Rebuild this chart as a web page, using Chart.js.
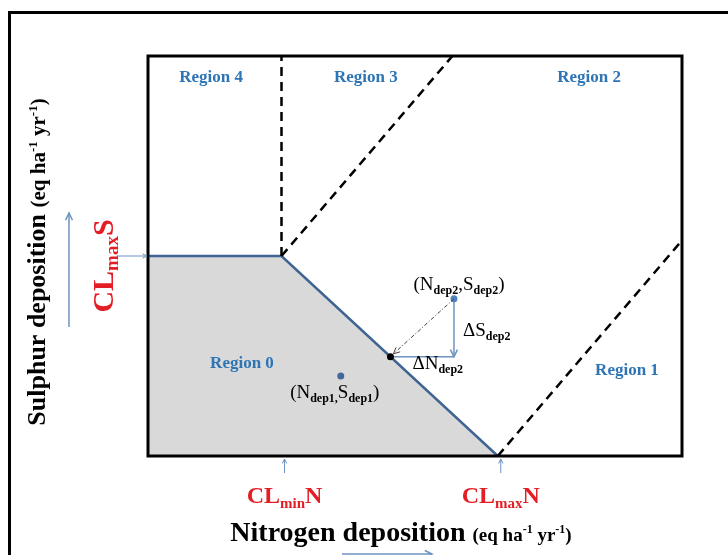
<!DOCTYPE html>
<html>
<head>
<meta charset="utf-8">
<script src="https://cdn.jsdelivr.net/npm/chart.js@4.4.1/dist/chart.umd.min.js"></script>
<style>
  html, body { margin: 0; padding: 0; background: #ffffff; }
  #c { display: block; }
</style>
</head>
<body>
<canvas id="c" width="728" height="555"></canvas>
<script>
// ---------------- data (arbitrary units 0..10) ----------------
const regionNames = ['Region 0', 'Region 1', 'Region 2', 'Region 3', 'Region 4'];
const criticalLoadNames = ['CLminN', 'CLmaxN', 'CLmaxS'];
const criticalLoadValues = [2.5, 6.55, 5];          // CLminN, CLmaxN (N axis), CLmaxS (S axis)
const boundaryN = [0, 2.5, 6.55];                    // critical load function
const boundaryS = [5, 5, 0];
const splitLinesN = [[2.5, 2.5], [2.5, 5.7], [6.55, 10]];   // dashed region borders
const splitLinesS = [[5, 10], [5, 10], [0, 5.39]];
const depositionNames = ['dep1', 'dep2'];
const depositionN = [3.61, 5.73];
const depositionS = [2.0, 3.93];
const exceedancePointN = [4.54];                     // closest point on the boundary
const exceedancePointS = [2.48];
const axisMin = 0, axisMax = 10;

// ---------------- layout / style (not data) ----------------
const SERIF = '"Liberation Serif", "Times New Roman", serif';
const BLUE_TXT = '#2e75b6';
const RED_TXT = '#e41e25';
const LINE_BLUE = '#3f6493';
const ARROW_BLUE = '#6d93c0';
const regionLabelPos = [[1.76, 2.35], [8.97, 2.175], [8.26, 9.5], [4.08, 9.5], [1.18, 9.5]];

function toXY(xs, ys) { return xs.map((v, i) => ({ x: v, y: ys[i] })); }

function richWidth(ctx, parts) {
  let w = 0;
  for (const p of parts) { ctx.font = p.font; w += ctx.measureText(p.t).width; }
  return w;
}
function drawRich(ctx, parts, x, y, align, color) {
  const w = richWidth(ctx, parts);
  let cx = align === 'center' ? x - w / 2 : (align === 'right' ? x - w : x);
  ctx.textAlign = 'left';
  ctx.textBaseline = 'alphabetic';
  ctx.fillStyle = color;
  for (const p of parts) {
    ctx.font = p.font;
    ctx.fillText(p.t, cx, y + (p.dy || 0));
    cx += ctx.measureText(p.t).width;
  }
}
function arrowLine(ctx, x1, y1, x2, y2, color, lw, head, dash) {
  ctx.save();
  ctx.strokeStyle = color;
  ctx.lineWidth = lw;
  ctx.setLineDash(dash || []);
  ctx.beginPath(); ctx.moveTo(x1, y1); ctx.lineTo(x2, y2); ctx.stroke();
  ctx.setLineDash([]);
  if (head) {
    const a = Math.atan2(y2 - y1, x2 - x1);
    ctx.beginPath();
    ctx.moveTo(x2 - head * Math.cos(a - 0.45), y2 - head * Math.sin(a - 0.45));
    ctx.lineTo(x2, y2);
    ctx.lineTo(x2 - head * Math.cos(a + 0.45), y2 - head * Math.sin(a + 0.45));
    ctx.stroke();
  }
  ctx.restore();
}
const f = (w, s) => `${w} ${s}px ${SERIF}`;

const decor = {
  id: 'decor',
  beforeDraw(chart) {
    const ctx = chart.ctx;
    ctx.save();
    ctx.fillStyle = '#ffffff';
    ctx.fillRect(0, 0, chart.width, chart.height);
    ctx.strokeStyle = '#000000';
    ctx.lineWidth = 3;
    ctx.strokeRect(9.5, 12.5, 900, 900);
    ctx.restore();
  },
  afterDatasetsDraw(chart) {
    const ctx = chart.ctx;
    const X = v => chart.scales.x.getPixelForValue(v);
    const Y = v => chart.scales.y.getPixelForValue(v);
    const a = chart.chartArea;
    ctx.save();

    // plot frame
    ctx.strokeStyle = '#000000';
    ctx.lineWidth = 3;
    ctx.strokeRect(a.left, a.top, a.right - a.left, a.bottom - a.top);

    // exceedance construction for deposition point 2
    const px2 = X(depositionN[1]), py2 = Y(depositionS[1]);
    const pxe = X(exceedancePointN[0]), pye = Y(exceedancePointS[0]);
    arrowLine(ctx, px2, py2, pxe + 3, pye - 3, '#444444', 1, 7, [4, 2, 1, 2]);
    arrowLine(ctx, px2, py2 + 3, px2, pye, ARROW_BLUE, 1.5, 8);
    arrowLine(ctx, px2, pye, pxe, pye, ARROW_BLUE, 1.5, 0);
    ctx.fillStyle = '#000000';
    ctx.beginPath(); ctx.arc(pxe, pye, 3.5, 0, Math.PI * 2); ctx.fill();

    // region labels
    regionNames.forEach((name, i) => {
      drawRich(ctx, [{ t: name, font: f('bold', 17) }], X(regionLabelPos[i][0]), Y(regionLabelPos[i][1]) + 6, 'center', BLUE_TXT);
    });

    // deposition labels
    const sub = 12, main = 19;
    drawRich(ctx, [
      { t: '(N', font: f('normal', main) }, { t: 'dep2', font: f('bold', sub), dy: 4 },
      { t: ',S', font: f('normal', main) }, { t: 'dep2', font: f('bold', sub), dy: 4 },
      { t: ')', font: f('normal', main) }], px2 + 5, py2 - 9, 'center', '#000000');
    const px1 = X(depositionN[0]), py1 = Y(depositionS[0]);
    drawRich(ctx, [
      { t: '(N', font: f('normal', main) }, { t: 'dep1,', font: f('bold', sub), dy: 4 },
      { t: 'S', font: f('normal', main) }, { t: 'dep1', font: f('bold', sub), dy: 4 },
      { t: ')', font: f('normal', main) }], px1 - 6, py1 + 22, 'center', '#000000');
    drawRich(ctx, [{ t: '\u0394S', font: f('normal', main) }, { t: 'dep2', font: f('bold', sub), dy: 4 }],
      px2 + 9, (py2 + pye) / 2 + 8, 'left', '#000000');
    drawRich(ctx, [{ t: '\u0394N', font: f('normal', main) }, { t: 'dep2', font: f('bold', sub), dy: 4 }],
      pxe + 22, pye + 12, 'left', '#000000');

    // critical loads on N axis
    [0, 1].forEach(i => {
      const x = X(criticalLoadValues[i]) + 3;
      arrowLine(ctx, x, a.bottom + 17, x, a.bottom + 3, ARROW_BLUE, 1, 5);
      const subT = criticalLoadNames[i].slice(2, 5);
      drawRich(ctx, [
        { t: 'CL', font: f('bold', 24) }, { t: subT, font: f('bold', 15), dy: 5 },
        { t: 'N', font: f('bold', 24) }], x, a.bottom + 47, 'center', RED_TXT);
    });

    // CLmaxS on S axis
    const ys = Y(criticalLoadValues[2]);
    arrowLine(ctx, 117, ys, a.left - 1, ys, ARROW_BLUE, 1, 5);
    ctx.save();
    ctx.translate(113, ys + 10);
    ctx.rotate(-Math.PI / 2);
    drawRich(ctx, [
      { t: 'CL', font: f('bold', 30) }, { t: 'max', font: f('bold', 19), dy: 5 },
      { t: 'S', font: f('bold', 30) }], 0, 0, 'center', RED_TXT);
    ctx.restore();

    // axis titles
    ctx.save();
    ctx.translate(45, 262);
    ctx.rotate(-Math.PI / 2);
    drawRich(ctx, [
      { t: 'Sulphur deposition ', font: f('bold', 26) },
      { t: '(eq ha', font: f('bold', 21) }, { t: '-1', font: f('bold', 13), dy: -8 },
      { t: ' yr', font: f('bold', 21) }, { t: '-1', font: f('bold', 13), dy: -8 },
      { t: ')', font: f('bold', 21) }], 0, 0, 'center', '#000000');
    ctx.restore();
    arrowLine(ctx, 69, 327, 69, 213, ARROW_BLUE, 1.5, 8);

    drawRich(ctx, [
      { t: 'Nitrogen deposition ', font: f('bold', 28) },
      { t: '(eq ha', font: f('bold', 19) }, { t: '-1', font: f('bold', 12), dy: -8 },
      { t: ' yr', font: f('bold', 19) }, { t: '-1', font: f('bold', 12), dy: -8 },
      { t: ')', font: f('bold', 19) }], 401, 541, 'center', '#000000');
    arrowLine(ctx, 342, 554, 432, 554, ARROW_BLUE, 1.5, 8);

    ctx.restore();
  }
};

const datasets = [
  {
    label: 'deposition',
    data: toXY(depositionN, depositionS),
    showLine: false,
    pointRadius: 3.5,
    pointBorderWidth: 0,
    pointBackgroundColor: ['#41689a', '#4f81bd'],
    order: 0
  },
  ...splitLinesN.map((xs, i) => ({
    label: 'split' + i,
    data: toXY(xs, splitLinesS[i]),
    borderColor: '#000000',
    borderWidth: 2.5,
    borderDash: [9, 6],
    pointRadius: 0,
    fill: false,
    order: 1
  })),
  {
    label: 'critical load function',
    data: toXY(boundaryN, boundaryS),
    borderColor: LINE_BLUE,
    borderWidth: 2.5,
    backgroundColor: '#d9d9d9',
    fill: 'origin',
    pointRadius: 0,
    tension: 0,
    order: 2
  }
];

new Chart(document.getElementById('c'), {
  type: 'line',
  data: { datasets },
  options: {
    responsive: false,
    animation: false,
    events: [],
    layout: { padding: { left: 148, right: 46, top: 56, bottom: 99 } },
    plugins: { legend: { display: false }, tooltip: { enabled: false } },
    scales: {
      x: { type: 'linear', min: axisMin, max: axisMax, display: false },
      y: { type: 'linear', min: axisMin, max: axisMax, display: false }
    }
  },
  plugins: [decor]
});
</script>
</body>
</html>
